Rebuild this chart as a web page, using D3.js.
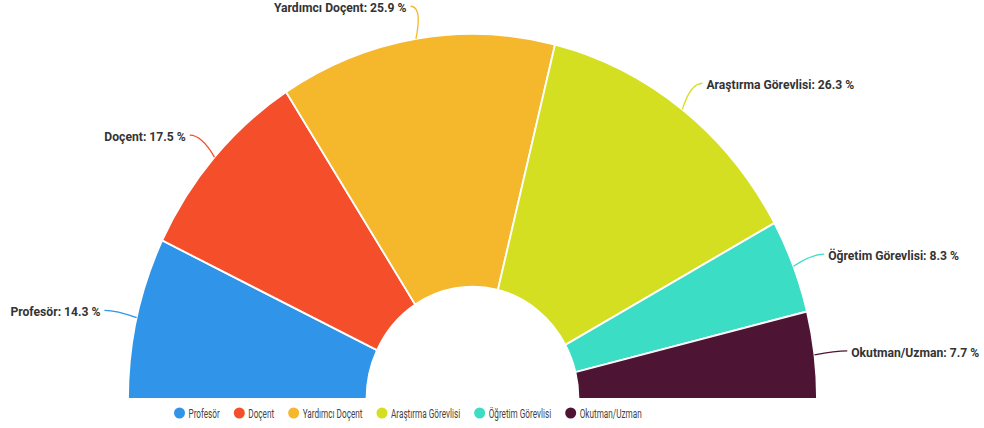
<!DOCTYPE html>
<html>
<head>
<meta charset="utf-8">
<script src="https://cdn.jsdelivr.net/npm/d3@7"></script>
<style>
  body { margin: 0; background: #fff; }
  text { font-family: Roboto, "Noto Sans", sans-serif; }
</style>
</head>
<body>
<div id="chart"></div>
<script>
// data
const categories = ['Profesör', 'Doçent', 'Yardımcı Doçent', 'Araştırma Görevlisi', 'Öğretim Görevlisi', 'Okutman/Uzman'];
const values = [14.3, 17.5, 25.9, 26.3, 8.3, 7.7];
const colors = ['#3095e8', '#f44e2a', '#f5b82d', '#d5df22', '#3cddc5', '#4e1434'];

const width = 984, height = 428;
const cx = 472.5, cy = 399;
const outerR = 344.5, innerR = 106;
const stretch = 1.06;     // picture is a bit taller than wide
const squeeze = 0.9;      // condensed look of the labels
const legendSqueeze = 0.63;

const svg = d3.select('#chart').append('svg')
  .attr('width', width)
  .attr('height', height);

const pie = d3.pie()
  .sort(null)
  .startAngle(-Math.PI / 2)
  .endAngle(Math.PI / 2)
  .value(d => d);

const arcs = pie(values);

const arc = d3.arc()
  .innerRadius(innerR)
  .outerRadius(outerR);

// slices
svg.append('g')
  .attr('transform', `translate(${cx},${cy}) scale(1,${stretch})`)
  .selectAll('path')
  .data(arcs)
  .enter().append('path')
  .attr('d', arc)
  .attr('fill', (d, i) => colors[i])
  .attr('stroke', '#fff')
  .attr('stroke-width', 1.8);

// point at a given distance outside the rim, along the slice middle
function rimPoint(a, extra) {
  return [cx + (outerR + extra) * Math.sin(a), cy - (outerR * stretch + extra) * Math.cos(a)];
}

const labels = svg.append('g');

arcs.forEach((d, i) => {
  const a = (d.startAngle + d.endAngle) / 2;
  const p0 = rimPoint(a, 0);
  const p1 = rimPoint(a, 33);
  const dir = Math.sin(a) < 0 ? 1 : -1;   // left labels point to the right

  labels.append('path')
    .attr('d', `M${p1[0]},${p1[1]} Q${p1[0] + dir * 12},${p1[1]} ${p0[0]},${p0[1]}`)
    .attr('fill', 'none')
    .attr('stroke', colors[i])
    .attr('stroke-width', 1.3);

  labels.append('text')
    .attr('transform', `translate(${p1[0] - dir * 4},${p1[1] + 1}) scale(${squeeze},1)`)
    .attr('text-anchor', dir > 0 ? 'end' : 'start')
    .attr('dy', '0.35em')
    .attr('font-size', '13.5px')
    .attr('font-weight', 'bold')
    .attr('fill', '#333')
    .text(categories[i] + ': ' + values[i] + ' %');
});

// legend
const legend = svg.append('g').attr('transform', 'translate(0,413)');
let lx = 179.5;
categories.forEach((c, i) => {
  legend.append('circle')
    .attr('cx', lx)
    .attr('cy', 0)
    .attr('r', 5.5)
    .attr('fill', colors[i]);
  const t = legend.append('text')
    .attr('transform', `translate(${lx + 9},0) scale(${legendSqueeze},1)`)
    .attr('dy', '0.35em')
    .attr('font-size', '13px')
    .attr('fill', '#444')
    .text(c);
  lx += 9 + t.node().getComputedTextLength() * legendSqueeze + 19.5;
});
</script>
</body>
</html>
